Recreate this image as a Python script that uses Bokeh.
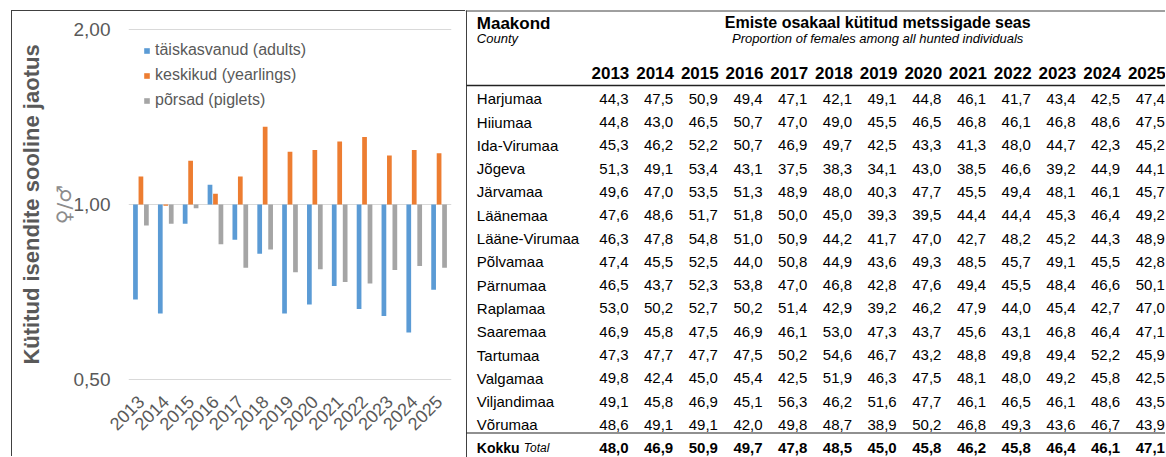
from math import pi
from bokeh.plotting import figure
from bokeh.models import (FactorRange, Range1d, FixedTicker, CustomJSTickFormatter,
                          Legend, LegendItem, LogAxis, ColumnDataSource)
from bokeh.transform import dodge
from bokeh.layouts import row
from bokeh.core.properties import value
from bokeh.embed import file_html
from bokeh.resources import INLINE

# ---------------- data ----------------
years = ["2013", "2014", "2015", "2016", "2017", "2018", "2019",
         "2020", "2021", "2022", "2023", "2024", "2025"]
adults = [0.687, 0.650, 0.927, 1.081, 0.870, 0.823, 0.650, 0.674, 0.725, 0.662, 0.644, 0.603, 0.714]
yearlings = [1.117, 0.995, 1.189, 1.043, 1.117, 1.360, 1.232, 1.240, 1.283, 1.306, 1.213, 1.240, 1.224]
piglets = [0.920, 0.927, 0.985, 0.855, 0.779, 0.837, 0.765, 0.774, 0.736, 0.732, 0.772, 0.784, 0.779]
series_labels = ["täiskasvanud (adults)", "keskikud (yearlings)", "põrsad (piglets)"]
y_ticks = [0.5, 1.0, 2.0]

counties = ["Harjumaa", "Hiiumaa", "Ida-Virumaa", "Jõgeva", "Järvamaa", "Läänemaa",
            "Lääne-Virumaa", "Põlvamaa", "Pärnumaa", "Raplamaa", "Saaremaa", "Tartumaa",
            "Valgamaa", "Viljandimaa", "Võrumaa"]
harjumaa = [44.3, 47.5, 50.9, 49.4, 47.1, 42.1, 49.1, 44.8, 46.1, 41.7, 43.4, 42.5, 47.4]
hiiumaa = [44.8, 43.0, 46.5, 50.7, 47.0, 49.0, 45.5, 46.5, 46.8, 46.1, 46.8, 48.6, 47.5]
ida_virumaa = [45.3, 46.2, 52.2, 50.7, 46.9, 49.7, 42.5, 43.3, 41.3, 48.0, 44.7, 42.3, 45.2]
jogeva = [51.3, 49.1, 53.4, 43.1, 37.5, 38.3, 34.1, 43.0, 38.5, 46.6, 39.2, 44.9, 44.1]
jarvamaa = [49.6, 47.0, 53.5, 51.3, 48.9, 48.0, 40.3, 47.7, 45.5, 49.4, 48.1, 46.1, 45.7]
laanemaa = [47.6, 48.6, 51.7, 51.8, 50.0, 45.0, 39.3, 39.5, 44.4, 44.4, 45.3, 46.4, 49.2]
laane_virumaa = [46.3, 47.8, 54.8, 51.0, 50.9, 44.2, 41.7, 47.0, 42.7, 48.2, 45.2, 44.3, 48.9]
polvamaa = [47.4, 45.5, 52.5, 44.0, 50.8, 44.9, 43.6, 49.3, 48.5, 45.7, 49.1, 45.5, 42.8]
parnumaa = [46.5, 43.7, 52.3, 53.8, 47.0, 46.8, 42.8, 47.6, 49.4, 45.5, 48.4, 46.6, 50.1]
raplamaa = [53.0, 50.2, 52.7, 50.2, 51.4, 42.9, 39.2, 46.2, 47.9, 44.0, 45.4, 42.7, 47.0]
saaremaa = [46.9, 45.8, 47.5, 46.9, 46.1, 53.0, 47.3, 43.7, 45.6, 43.1, 46.8, 46.4, 47.1]
tartumaa = [47.3, 47.7, 47.7, 47.5, 50.2, 54.6, 46.7, 43.2, 48.8, 49.8, 49.4, 52.2, 45.9]
valgamaa = [49.8, 42.4, 45.0, 45.4, 42.5, 51.9, 46.3, 47.5, 48.1, 48.0, 49.2, 45.8, 42.5]
viljandimaa = [49.1, 45.8, 46.9, 45.1, 56.3, 46.2, 51.6, 47.7, 46.1, 46.5, 46.1, 48.6, 43.5]
vorumaa = [48.6, 49.1, 49.1, 42.0, 49.8, 48.7, 38.9, 50.2, 46.8, 49.3, 43.6, 46.7, 43.9]
kokku = [48.0, 46.9, 50.9, 49.7, 47.8, 48.5, 45.0, 45.8, 46.2, 45.8, 46.4, 46.1, 47.1]
county_rows = [harjumaa, hiiumaa, ida_virumaa, jogeva, jarvamaa, laanemaa, laane_virumaa,
               polvamaa, parnumaa, raplamaa, saaremaa, tartumaa, valgamaa, viljandimaa, vorumaa]

# ---------------- styles ----------------
FONT = "Liberation Sans"
TXT_GRAY = "#595959"
C_BLUE, C_ORANGE, C_GRAY = "#5B9BD5", "#ED7D31", "#A5A5A5"
LINE_DARK = "#404040"

# ---------------- chart ----------------
CW, CH = 454, 446          # chart canvas (placed after an 11px/10px offset + 1px border)
ML, MR, MT, MB = 116, 15, 17, 77
frame_h = CH - MT - MB

src = ColumnDataSource(dict(year=years, adults=adults, yearlings=yearlings,
                            piglets=piglets, base=[1.0] * len(years)))

p = figure(width=CW, height=CH, x_range=FactorRange(factors=years),
           y_range=Range1d(0.499, 2.004), y_axis_type="log",
           output_backend="svg", toolbar_location=None,
           min_border_left=ML, min_border_right=MR, min_border_top=MT, min_border_bottom=MB)
p.frame_align = False
p.margin = (10, 0, 0, 11)
p.styles = {"border-top": f"1px solid {LINE_DARK}", "border-left": f"1px solid {LINE_DARK}"}

bw = 0.19
r1 = p.vbar(x=dodge("year", -0.22, range=p.x_range), top="adults", bottom="base",
            width=bw, source=src, fill_color=C_BLUE, line_color=None)
r2 = p.vbar(x=dodge("year", 0.0, range=p.x_range), top="yearlings", bottom="base",
            width=bw, source=src, fill_color=C_ORANGE, line_color=None)
r3 = p.vbar(x=dodge("year", 0.22, range=p.x_range), top="piglets", bottom="base",
            width=bw, source=src, fill_color=C_GRAY, line_color=None)

legend = Legend(items=[LegendItem(label=series_labels[0], renderers=[r1]),
                       LegendItem(label=series_labels[1], renderers=[r2]),
                       LegendItem(label=series_labels[2], renderers=[r3])],
                location=(15, frame_h - 12 - 70), border_line_color=None,
                background_fill_alpha=0, padding=0, margin=0, spacing=5,
                label_height=20, glyph_height=7, glyph_width=7, label_standoff=5,
                label_text_font=FONT, label_text_font_size="16px",
                label_text_color=TXT_GRAY, label_text_baseline="middle")
p.add_layout(legend)

ticker = FixedTicker(ticks=y_ticks)
p.yaxis.ticker = ticker
p.ygrid.ticker = ticker
p.yaxis.formatter = CustomJSTickFormatter(code="return tick.toFixed(2).replace('.', ',');")
p.yaxis.axis_line_color = None
p.yaxis.major_tick_line_color = None
p.yaxis.minor_tick_line_color = None
p.yaxis.major_tick_out = 0
p.yaxis.major_label_standoff = 18
p.yaxis.major_label_text_font = FONT
p.yaxis.major_label_text_font_size = "19px"
p.yaxis.major_label_text_color = TXT_GRAY
p.yaxis.axis_label = "♀/♂"
p.yaxis.axis_label_text_font = "DejaVu Sans"
p.yaxis.axis_label_text_font_style = "normal"
p.yaxis.axis_label_text_font_size = "20px"
p.yaxis.axis_label_text_color = "#8c8c8c"
p.yaxis.axis_label_standoff = -5

title_axis = LogAxis(ticker=FixedTicker(ticks=[]), axis_line_color=None,
                     major_tick_line_color=None, minor_tick_line_color=None,
                     major_tick_out=0, minor_tick_out=0, major_label_standoff=0,
                     axis_label="Kütitud isendite sooline jaotus",
                     axis_label_text_font=FONT, axis_label_text_font_style="bold",
                     axis_label_text_font_size="22px", axis_label_text_color=TXT_GRAY,
                     axis_label_standoff=5)
p.add_layout(title_axis, "left")

p.xaxis.axis_line_color = None
p.xaxis.major_tick_line_color = None
p.xaxis.major_tick_out = 0
p.xaxis.major_label_orientation = pi / 4
p.xaxis.major_label_standoff = 18
p.xaxis.major_label_text_font = FONT
p.xaxis.major_label_text_font_size = "18px"
p.xaxis.major_label_text_color = TXT_GRAY

p.ygrid.grid_line_color = "#d9d9d9"
p.ygrid.grid_line_width = 1
p.xgrid.grid_line_color = None
p.outline_line_color = None
p.background_fill_color = "white"
p.border_fill_color = "white"

# ---------------- table ----------------
TW, TH = 700, 457
t = figure(width=TW, height=TH, x_range=Range1d(0, TW), y_range=Range1d(TH, 0),
           output_backend="svg", toolbar_location=None, min_border=0,
           x_axis_location=None, y_axis_location=None)
t.frame_align = False
t.grid.grid_line_color = None
t.outline_line_color = None
t.background_fill_color = "white"
t.border_fill_color = "white"

name_x = 11.3
col_x0, col_dx = 163.0, 44.7
row_y0, row_dy = 98.2, 23.3
hdr_line_y = 85
kokku_line_y = 432.5
kokku_y = 447.3

def fmt(v):
    return f"{v:.1f}".replace(".", ",")

# lines
t.segment(x0=[0, 1, 1, 1], y0=[10.5, 10, hdr_line_y, kokku_line_y],
          x1=[TW, 1, TW, TW], y1=[10.5, TH, hdr_line_y, kokku_line_y],
          line_color=[LINE_DARK, LINE_DARK, "#222222", "#222222"],
          line_width=[1, 1, 1.6, 1.2])

# headers
t.text(x=[name_x], y=[22.8], text=["Maakond"], text_font=value(FONT), text_font_style="bold",
       text_font_size="17px", text_color="black", text_baseline="alphabetic")
t.text(x=[name_x], y=[38.0], text=["County"], text_font=value(FONT), text_font_style="italic",
       text_font_size="13px", text_color="black", text_baseline="alphabetic")
hdr_cx = (col_x0 - 19 + col_x0 + col_dx * (len(years) - 1) - 19) / 2
t.text(x=[hdr_cx], y=[22.0], text=["Emiste osakaal kütitud metssigade seas"],
       text_font=value(FONT), text_font_style="bold", text_font_size="16px",
       text_color="black", text_align="center", text_baseline="alphabetic")
t.text(x=[hdr_cx], y=[38.0], text=["Proportion of females among all hunted individuals"],
       text_font=value(FONT), text_font_style="italic", text_font_size="13px",
       text_color="black", text_align="center", text_baseline="alphabetic")

col_xs = [col_x0 + col_dx * j for j in range(len(years))]
t.text(x=[c + 0.8 for c in col_xs], y=[72.0] * len(years), text=years, text_font=value(FONT),
       text_font_style="bold", text_font_size="17px", text_color="black",
       text_align="right", text_baseline="alphabetic")

# body
row_ys = [row_y0 + row_dy * i for i in range(len(counties))]
t.text(x=[name_x] * len(counties), y=row_ys, text=counties, text_font=value(FONT),
       text_font_size="15px", text_color="black", text_baseline="alphabetic")
vx, vy, vt = [], [], []
for i, vals in enumerate(county_rows):
    for j, v in enumerate(vals):
        vx.append(col_xs[j])
        vy.append(row_ys[i])
        vt.append(fmt(v))
t.text(x=vx, y=vy, text=vt, text_font=value(FONT), text_font_size="15px",
       text_color="black", text_align="right", text_baseline="alphabetic")

# total row
t.text(x=[name_x], y=[kokku_y], text=["Kokku"], text_font=value(FONT), text_font_style="bold",
       text_font_size="14px", text_color="black", text_baseline="alphabetic")
t.text(x=[name_x + 47], y=[kokku_y], text=["Total"], text_font=value(FONT),
       text_font_style="italic", text_font_size="12px", text_color="black",
       text_baseline="alphabetic")
t.text(x=col_xs, y=[kokku_y] * len(years), text=[fmt(v) for v in kokku],
       text_font=value(FONT), text_font_style="bold", text_font_size="15px",
       text_color="black", text_align="right", text_baseline="alphabetic")

layout = row(p, t)
open("out.html", "w").write(file_html(layout, INLINE))
